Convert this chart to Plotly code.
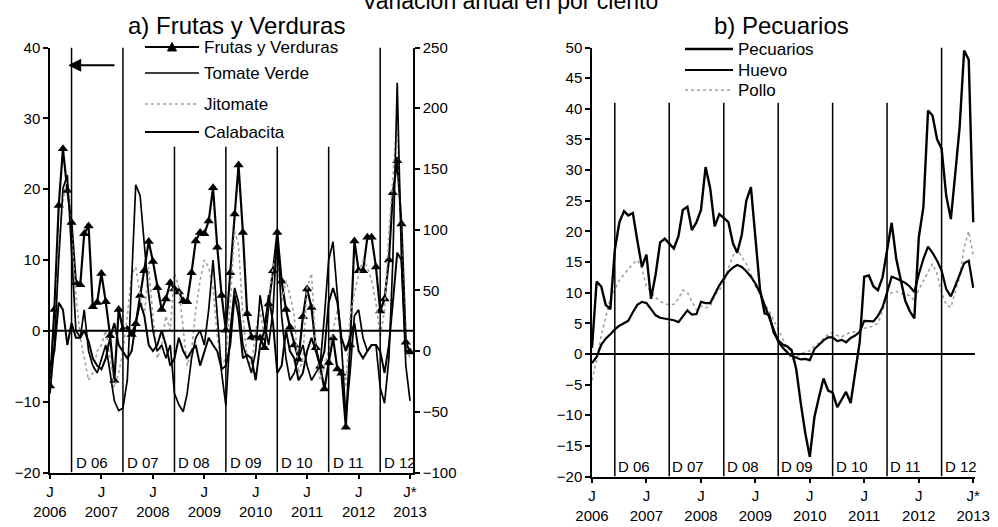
import plotly.graph_objects as go
import pandas as pd

# ---------------- data ----------------
months = [d.strftime("%Y-%m-%d") for d in pd.date_range("2006-07-01", periods=85, freq="MS")]

tick_vals = ["2006-07-01", "2007-07-01", "2008-07-01", "2009-07-01",
             "2010-07-01", "2011-07-01", "2012-07-01", "2013-07-01"]
tick_text = ["J<br>2006", "J<br>2007", "J<br>2008", "J<br>2009",
             "J<br>2010", "J<br>2011", "J<br>2012", "J*<br>2013"]

dec_marks = ["2006-12-01", "2007-12-01", "2008-12-01", "2009-12-01",
             "2010-12-01", "2011-12-01", "2012-12-01"]
dec_labels = ["D 06", "D 07", "D 08", "D 09", "D 10", "D 11", "D 12"]

# a) Frutas y Verduras (left axis, %)
frutas_verduras = [-7.8, 3, 17.7, 25.7, 19.8, 15.3, 6.8, 6.5, 13.7, 14.8, 3.4, 4,
                   8.1, 4.1, -0.7, -7, 3, 0.2, 0.2, -0.5, 1, 5, 8.5, 12.6,
                   9.8, 6.1, 3, 4.5, 6.8, 5.9, 5.5, 4.2, 4.1, 8.2, 12.7, 13.9,
                   13.7, 15.5, 20.2, 11.8, 5, 0.1, 8.2, 16.5, 23.4, 13.9, 2.4, -0.9,
                   -1, -1, -2.4, 3.8, 8.5, 13.9, 7, 3, 0.5, -2, -4, 2,
                   5.9, 3.3, -2.4, -5, -8.2, -4.5, -1, -5.4, -6, -13.6, -2, 12.7,
                   8.5, 8.5, 13.2, 13.2, 9, 2.8, 4.5, 10, 19.5, 24, 15.1, -1.6,
                   -3]
# right axis (%)
tomate_verde = [-35, 5, 75, 134, 145, 87, 17, 11, 34, 0, -12, -18,
                -6, 5, -18, -41, -49, -47, -24, 64, 137, 128, 87, 46,
                17, 0, 5, -6, 5, -35, -44, -50, -35, -6, 11, 17,
                5, 34, 75, 29, -18, -45, 17, 52, 40, 5, -6, -18,
                0, 46, 23, 5, 34, 99, 29, -6, -24, -18, -6, 5,
                -12, -24, -18, -12, 29, 75, 90, 46, 5, -54, -18, 29,
                34, 11, 0, 5, 5, -30, -43, -6, 75, 221, 75, -12,
                -41]
jitomate = [-30, 0, 87, 122, 145, 99, 46, 11, -6, -24, -18, 0,
            5, 17, -6, -30, -18, 0, 29, 64, 69, 46, 29, 69,
            29, -6, 5, 29, 17, 64, 52, 17, -12, 0, 34, 58,
            75, 69, 52, 11, -12, -6, 40, 99, 87, 29, -6, -12,
            17, 34, 11, 46, 69, 81, 40, 58, 46, 29, -18, -6,
            52, 64, 5, -24, -12, 0, 17, 34, 0, -30, 29, 46,
            64, 75, 69, 58, 40, 11, 34, 99, 145, 192, 87, 5,
            -6]
calabacita = [-12, 0, 40, 34, 5, 23, 11, 11, 17, 8, -6, -12,
              -15, -6, 11, 23, 5, 0, -6, 0, 23, 40, 29, 5,
              0, 5, 17, 5, -12, -6, 11, 0, -6, 0, 5, -12,
              0, 11, 5, 0, -15, -12, 5, 46, 29, -6, -3, -6,
              -24, 5, 17, 46, 23, -18, -12, 17, 0, -6, -24, -18,
              0, 11, 0, -12, 0, 40, 52, 40, 11, 0, 11, 23,
              0, -6, 0, 5, 5, 0, -18, 5, 40, 81, 75, 0,
              0]

# b) Pecuarios
pecuarios = [1, 11.8, 11, 8, 7.3, 17, 21.5, 23.3, 22.6, 23, 18.5, 14.2,
             16.2, 9, 13, 18.2, 18.8, 18, 17.2, 19.2, 23.5, 24, 20.2, 21.5,
             23.5, 30.5, 27, 20.8, 22.8, 22.2, 21.5, 18, 16.5, 19.5, 25, 27.2,
             19, 10.5, 6.6, 6.4, 3.5, 2.2, 1.5, 1.2, 0.6, -2.5, -8, -13,
             -16.8, -10.3, -7, -4, -6, -6.3, -8.7, -7.5, -6.2, -8, -3, 2,
             12.6, 12.8, 11, 10.4, 12.5, 17, 21.4, 15.5, 12, 8.7, 7, 5.8,
             19, 24, 39.7, 38.9, 35, 33.5, 25.8, 22, 29, 37, 49.5, 48,
             21.5]
huevo = [-1.5, -0.5, 1.5, 2.5, 3.2, 4, 4.6, 5, 5.4, 6.8, 8, 8.5,
         8.3, 7.3, 6.3, 5.9, 5.8, 5.7, 5.5, 5.2, 6.2, 7.1, 6.4, 6.5,
         8.5, 8.3, 8.3, 9.8, 11.2, 12.3, 13.4, 14.1, 14.5, 14.2, 13.5, 12.6,
         11.5, 10, 8, 5.8, 3.8, 2, 1, 0.2, -0.3, -0.6, -0.9, -0.8,
         -1, 0.8, 1.6, 2.2, 2.7, 2.7, 2.1, 2.3, 1.9, 2.6, 3, 3.6,
         5.4, 5.3, 5.3, 6.2, 7.6, 10, 12.6, 12.3, 12, 11.6, 11, 10.1,
         13, 15.5, 17.5, 16.5, 15.2, 13.6, 10.6, 9.4, 11, 13, 14.8, 15.2,
         10.8]
pollo = [-4.3, -1, 3, 6, 9, 10.5, 12, 13, 13.8, 14.7, 15.3, 14,
         11, 10, 9.2, 8.6, 8.2, 8, 8.1, 9, 10.4, 10, 8.5, 7.2,
         7.8, 7.5, 7.8, 9.5, 10.4, 11.5, 14, 16, 17, 15.8, 14.7, 13,
         11, 9.8, 8.2, 7, 5.5, 3.8, 2.5, 0.5, -1, -0.5, 0, 0.3,
         0.5, 1.3, 1.8, 2.5, 3.2, 3.5, 3, 2.8, 3.2, 3.5, 3.6, 3.8,
         4.2, 4.3, 4.6, 5, 7, 9.5, 10, 10.2, 9.8, 9.8, 9.5, 8.7,
         10.5, 12, 13.5, 14.7, 13, 10, 8, 7.6, 10, 12.5, 17.4, 20,
         16]

# ---------------- figure ----------------
W, H = 998, 527
FONT = "Liberation Sans, Arial, sans-serif"
BLACK = "#000000"
GRAY = "#a0a0a0"

def px(x):
    return x / W

def py(y):
    return 1 - y / H

fig = go.Figure()

fig.add_trace(go.Scatter(x=months, y=jitomate, name="Jitomate", mode="lines",
                         line=dict(color=GRAY, width=1.6, dash="dot"),
                         xaxis="x", yaxis="y2"))
fig.add_trace(go.Scatter(x=months, y=tomate_verde, name="Tomate Verde", mode="lines",
                         line=dict(color=BLACK, width=1.7),
                         xaxis="x", yaxis="y2"))
fig.add_trace(go.Scatter(x=months, y=calabacita, name="Calabacita", mode="lines",
                         line=dict(color=BLACK, width=2),
                         xaxis="x", yaxis="y2"))
fig.add_trace(go.Scatter(x=months, y=frutas_verduras, name="Frutas y Verduras",
                         mode="lines+markers",
                         line=dict(color=BLACK, width=2.2),
                         marker=dict(symbol="triangle-up", size=9, color=BLACK),
                         xaxis="x", yaxis="y"))

fig.add_trace(go.Scatter(x=months, y=pollo, name="Pollo", mode="lines",
                         line=dict(color=GRAY, width=1.6, dash="dot"),
                         xaxis="x2", yaxis="y3"))
fig.add_trace(go.Scatter(x=months, y=huevo, name="Huevo", mode="lines",
                         line=dict(color=BLACK, width=2.2),
                         xaxis="x2", yaxis="y3"))
fig.add_trace(go.Scatter(x=months, y=pecuarios, name="Pecuarios", mode="lines",
                         line=dict(color=BLACK, width=2.4),
                         xaxis="x2", yaxis="y3"))

axis_common = dict(showline=True, linecolor=BLACK, linewidth=1.5, ticks="outside",
                   ticklen=5, tickwidth=1.5, tickcolor=BLACK, showgrid=False,
                   zeroline=False, automargin=False,
                   tickfont=dict(family=FONT, size=15, color=BLACK))

fig.update_layout(
    width=W, height=H,
    margin=dict(l=0, r=0, t=0, b=0, pad=0, autoexpand=False),
    paper_bgcolor="white", plot_bgcolor="white",
    showlegend=False,
    font=dict(family=FONT, color=BLACK),
    xaxis=dict(domain=[px(50), px(413)], type="date",
               range=["2006-07-01", "2013-07-22"], tickmode="array",
               tickvals=tick_vals, ticktext=tick_text, anchor="y", **axis_common),
    yaxis=dict(domain=[py(472.5), py(47.5)], range=[-20, 40], dtick=10,
               anchor="x", **axis_common),
    yaxis2=dict(overlaying="y", side="right", range=[-100, 250], dtick=50,
                anchor="x", **axis_common),
    xaxis2=dict(domain=[px(592), px(975)], type="date",
                range=["2006-07-01", "2013-07-13"], tickmode="array",
                tickvals=tick_vals, ticktext=tick_text, anchor="y3", **axis_common),
    yaxis3=dict(domain=[py(476.5), py(47.5)], range=[-20, 50], dtick=5,
                anchor="x2", **axis_common),
)

shapes = []
annotations = []

# zero lines
shapes.append(dict(type="line", xref="x domain", yref="y", x0=0, x1=1, y0=0, y1=0,
                   line=dict(color=BLACK, width=2)))
shapes.append(dict(type="line", xref="x2 domain", yref="y3", x0=0, x1=1, y0=0, y1=0,
                   line=dict(color=BLACK, width=2)))

# December markers
left_tops = [40, 40, 26, 26, 26, 26, 40]
right_tops = [41, 41, 41, 41, 41, 41, 50]
for d, lab, t1, t2 in zip(dec_marks, dec_labels, left_tops, right_tops):
    shapes.append(dict(type="line", xref="x", yref="y", x0=d, x1=d, y0=-20, y1=t1,
                       line=dict(color=BLACK, width=1.5)))
    shapes.append(dict(type="line", xref="x2", yref="y3", x0=d, x1=d, y0=-20, y1=t2,
                       line=dict(color=BLACK, width=1.5)))
    annotations.append(dict(x=d, y=-20, xref="x", yref="y", text=lab, showarrow=False,
                            xanchor="left", yanchor="bottom", xshift=2, yshift=0,
                            font=dict(family=FONT, size=15, color=BLACK)))
    annotations.append(dict(x=d, y=-20, xref="x2", yref="y3", text=lab, showarrow=False,
                            xanchor="left", yanchor="bottom", xshift=1, yshift=0,
                            font=dict(family=FONT, size=15, color=BLACK)))

# arrow in panel a
annotations.append(dict(x="2006-11-07", y=37.5, ax="2007-10-13", ay=37.5,
                        xref="x", yref="y", axref="x", ayref="y", text="",
                        showarrow=True, arrowhead=2, arrowsize=1.3, arrowwidth=2,
                        arrowcolor=BLACK))

# titles
annotations.append(dict(x=px(510), y=py(1), xref="paper", yref="paper",
                        text="Variación anual en por ciento", showarrow=False,
                        xanchor="center", yanchor="middle",
                        font=dict(family=FONT, size=23, color=BLACK)))
annotations.append(dict(x=px(236), y=py(25), xref="paper", yref="paper",
                        text="a) Frutas y Verduras", showarrow=False,
                        xanchor="center", yanchor="middle",
                        font=dict(family=FONT, size=24, color=BLACK)))
annotations.append(dict(x=px(781), y=py(25), xref="paper", yref="paper",
                        text="b) Pecuarios", showarrow=False,
                        xanchor="center", yanchor="middle",
                        font=dict(family=FONT, size=24, color=BLACK)))

# legend panel a
leg_a = [("Frutas y Verduras", 47, dict(color=BLACK, width=2.2)),
         ("Tomate Verde", 73, dict(color=BLACK, width=1.7)),
         ("Jitomate", 104, dict(color=GRAY, width=1.6, dash="dot")),
         ("Calabacita", 132, dict(color=BLACK, width=2))]
for name, yy, ln in leg_a:
    shapes.append(dict(type="line", xref="paper", yref="paper", x0=px(145), x1=px(199),
                       y0=py(yy), y1=py(yy), line=ln))
    annotations.append(dict(x=px(202), y=py(yy), xref="paper", yref="paper", text=name,
                            showarrow=False, xanchor="left", yanchor="middle",
                            font=dict(family=FONT, size=17, color=BLACK)))
tri = "M {:.5f},{:.5f} L {:.5f},{:.5f} L {:.5f},{:.5f} Z".format(
    px(167.5), py(51), px(176.5), py(51), px(172), py(42.5))
shapes.append(dict(type="path", xref="paper", yref="paper", path=tri,
                   fillcolor=BLACK, line=dict(color=BLACK, width=1)))

# legend panel b
leg_b = [("Pecuarios", 49, dict(color=BLACK, width=2.4)),
         ("Huevo", 70, dict(color=BLACK, width=2.2)),
         ("Pollo", 90, dict(color=GRAY, width=1.6, dash="dot"))]
for name, yy, ln in leg_b:
    shapes.append(dict(type="line", xref="paper", yref="paper", x0=px(685), x1=px(733),
                       y0=py(yy), y1=py(yy), line=ln))
    annotations.append(dict(x=px(736), y=py(yy), xref="paper", yref="paper", text=name,
                            showarrow=False, xanchor="left", yanchor="middle",
                            font=dict(family=FONT, size=17, color=BLACK)))

fig.update_layout(shapes=shapes, annotations=annotations)

fig.write_html("out.html",
               config={"displayModeBar": False},
               post_script="document.body.style.margin='0';document.body.style.overflow='hidden';")
